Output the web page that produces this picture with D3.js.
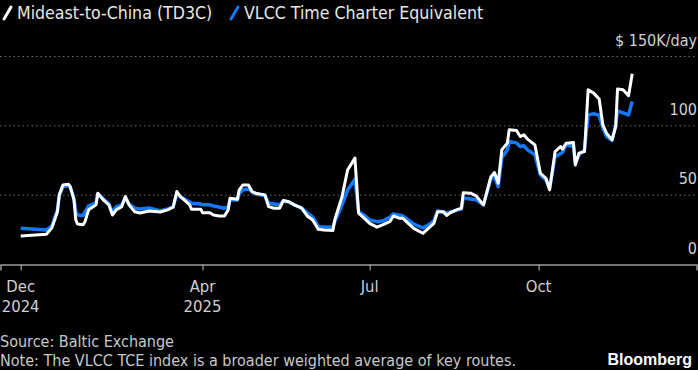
<!DOCTYPE html>
<html>
<head>
<meta charset="utf-8">
<script src="https://cdn.jsdelivr.net/npm/d3@7"></script>
<style>
  html, body { margin: 0; padding: 0; background: #000; }
  svg { display: block; }
  text { font-family: "DejaVu Sans Condensed", "DejaVu Sans", sans-serif; font-stretch: condensed; }
</style>
</head>
<body>
<svg width="698" height="370"></svg>
<script>
// values ($K/day)
const dates = [
  '2024-12-23','2025-01-06','2025-01-09','2025-01-12','2025-01-13','2025-01-15','2025-01-18','2025-01-19',
  '2025-01-21','2025-01-22','2025-01-23','2025-01-26','2025-01-27','2025-01-29','2025-02-02','2025-02-03',
  '2025-02-06','2025-02-09','2025-02-11','2025-02-13','2025-02-16','2025-02-18','2025-02-20','2025-02-23',
  '2025-02-26','2025-03-03','2025-03-09','2025-03-13','2025-03-16','2025-03-18','2025-03-20','2025-03-22',
  '2025-03-25','2025-03-26','2025-03-31','2025-04-01','2025-04-05','2025-04-07','2025-04-10','2025-04-13',
  '2025-04-15','2025-04-16','2025-04-20','2025-04-21','2025-04-23','2025-04-26','2025-04-28','2025-04-30',
  '2025-05-05','2025-05-07','2025-05-10','2025-05-13','2025-05-15','2025-05-18','2025-05-21','2025-05-25',
  '2025-05-28','2025-05-31','2025-06-03','2025-06-06','2025-06-11','2025-06-12','2025-06-16','2025-06-19',
  '2025-06-23','2025-06-25','2025-06-28','2025-07-01','2025-07-05','2025-07-08','2025-07-12','2025-07-14',
  '2025-07-17','2025-07-19','2025-07-22','2025-07-25','2025-07-30','2025-08-02','2025-08-05','2025-08-07',
  '2025-08-10','2025-08-12','2025-08-14','2025-08-18','2025-08-20','2025-08-21','2025-08-25','2025-08-28',
  '2025-09-01','2025-09-05','2025-09-07','2025-09-09','2025-09-11','2025-09-14','2025-09-15','2025-09-19',
  '2025-09-21','2025-09-23','2025-09-25','2025-09-29','2025-10-02','2025-10-05','2025-10-07','2025-10-10',
  '2025-10-13','2025-10-14','2025-10-16','2025-10-20','2025-10-21','2025-10-23','2025-10-26','2025-10-28',
  '2025-10-31','2025-11-03','2025-11-05','2025-11-07','2025-11-10','2025-11-12','2025-11-13','2025-11-16',
  '2025-11-19','2025-11-21'];

const td3c = [
  20.6,21.8,26.4,38.1,50.2,57.4,57.9,56.2, 46.6,32.1,29.2,28.7,30.9,39.4,43.0,51.4,
  46.6,43.0,35.7,39.4,41.7,49.0,43.0,38.1, 37.2,38.6,37.9,39.4,41.3,52.6,49.0,46.6,
  43.0,39.9,39.9,37.4,37.4,35.7,35.0,35.0, 39.4,47.8,47.1,53.8,57.4,57.4,52.6,51.4,
  50.2,41.7,40.6,40.6,46.1,45.3,43.0,40.6, 35.0,32.1,25.4,24.9,24.5,32.1,49.0,68.2,
  76.7,37.0,33.4,29.7,26.9,28.5,30.9,35.0, 33.4,33.4,29.7,26.1,22.5,26.1,29.7,38.1,
  38.1,35.4,37.4,39.7,40.6,51.8,51.4,49.5, 43.0,63.2,66.3,58.6,82.7,87.5,97.1,96.6,
  92.3,93.5,90.4,86.3,65.8,62.2,53.8,81.4, 85.1,83.2,87.5,87.9,71.8,80.3,81.4,126.0,
  123.6,119.3,100.7,94.7,89.9,99.5,126.5,126.0, 121.7,137.5];

const tce = [
  26.1,24.9,27.8,39.4,49.5,56.0,56.7,55.2, 48.0,37.9,35.7,35.4,37.9,42.2,44.4,50.9,
  47.3,43.7,37.9,41.5,43.0,48.0,43.7,40.8, 40.0,40.8,38.6,40.0,41.5,50.9,48.7,47.3,
  45.1,44.2,43.7,43.0,43.0,42.2,41.5,40.6, 41.5,46.6,46.6,50.9,53.8,54.5,52.3,50.9,
  49.5,44.2,43.7,43.0,45.8,45.1,43.0,40.8, 37.2,34.3,27.3,27.1,26.9,30.7,43.0,53.8,
  61.5,38.1,35.7,32.1,30.9,31.4,34.1,36.5, 35.7,35.0,32.1,29.2,26.4,28.5,31.4,38.6,
  37.9,37.2,37.9,39.4,40.0,48.0,47.3,46.6, 43.0,61.7,63.2,56.2,76.9,82.7,88.7,87.7,
  85.1,85.6,82.7,79.1,64.6,61.0,55.0,77.6, 80.1,80.7,86.3,85.1,73.1,79.1,82.7,107.9,
  108.7,107.6,98.6,92.3,89.5,100.7,110.8,109.4, 107.9,117.5];

const xTicks = ['2024-12-23','2025-04-01','2025-07-01','2025-10-01'];
const xTickMonths = ['Dec','Apr','Jul','Oct'];
const xTickYears = ['2024','2025','',''];
const yTicks = [0, 50, 100, 150];

const WHITE = '#ffffff';
const BLUE = '#1479f8';
const GRID = '#6e6e6e';
const LABEL = '#d0d0d0';

const parse = d3.timeParse('%Y-%m-%d');

function main(){
    const svg = d3.select('svg');

    const x = d3.scaleTime()
        .domain([parse('2024-12-12'), parse('2025-12-26')])
        .range([0.5, 696.5]);
    const y = d3.scaleLinear().domain([0, 150]).range([264.5, 56.5]);

    // dotted gridlines
    svg.append('g').selectAll('line')
        .data(yTicks.filter(t => t > 0))
        .join('line')
        .attr('x1', 0).attr('x2', 697)
        .attr('y1', d => y(d)).attr('y2', d => y(d))
        .attr('stroke', GRID).attr('stroke-width', 1)
        .attr('stroke-dasharray', '1.5,3');

    // right-side value labels
    svg.append('g').selectAll('text')
        .data(yTicks)
        .join('text')
        .attr('x', 697).attr('y', d => y(d) - 11)
        .attr('text-anchor', 'end').attr('font-size', 16)
        .attr('fill', LABEL)
        .text(d => d === 150 ? '$ 150K/day' : d);

    // x axis
    const xAxis = d3.axisBottom(x)
        .tickValues(xTicks.map(parse))
        .tickSize(6)
        .tickFormat('');
    const ax = svg.append('g')
        .attr('transform', `translate(0,${y(0)})`)
        .call(xAxis);
    ax.select('.domain').attr('stroke', '#9a9a9a').attr('stroke-width', 1.5);
    ax.selectAll('.tick line').attr('stroke', '#bdbdbd');

    const lbl = svg.append('g').selectAll('text')
        .data(xTicks)
        .join('text')
        .attr('text-anchor', 'middle').attr('font-size', 16.5)
        .attr('fill', LABEL);
    lbl.append('tspan')
        .attr('x', d => x(parse(d))).attr('y', 292)
        .text((d, i) => xTickMonths[i]);
    lbl.append('tspan')
        .attr('x', d => x(parse(d))).attr('y', 312)
        .text((d, i) => xTickYears[i]);

    // series
    const pts = dates.map((d, i) => ({date: parse(d), td3c: td3c[i], tce: tce[i]}));
    const line = key => d3.line()
        .x(d => x(d.date))
        .y(d => y(d[key]));

    svg.append('path').datum(pts)
        .attr('d', line('tce'))
        .attr('fill', 'none').attr('stroke', BLUE)
        .attr('stroke-width', 3.5).attr('stroke-linejoin', 'round');
    svg.append('path').datum(pts)
        .attr('d', line('td3c'))
        .attr('fill', 'none').attr('stroke', WHITE)
        .attr('stroke-width', 3).attr('stroke-linejoin', 'round');

    // legend
    const legend = [
        {name: 'Mideast-to-China (TD3C)', color: WHITE, x: 3},
        {name: 'VLCC Time Charter Equivalent', color: BLUE, x: 230}
    ];
    const lg = svg.append('g').selectAll('g')
        .data(legend)
        .join('g')
        .attr('transform', d => `translate(${d.x},0)`);
    lg.append('line')
        .attr('x1', 1).attr('y1', 19).attr('x2', 8).attr('y2', 7)
        .attr('stroke', d => d.color).attr('stroke-width', 3)
        .attr('stroke-linecap', 'round');
    lg.append('text')
        .attr('x', 14).attr('y', 19)
        .attr('font-size', 17.6).attr('fill', '#e8e8e8')
        .text(d => d.name);

    // footer
    svg.append('text')
        .attr('x', 0).attr('y', 347)
        .attr('font-size', 16).attr('fill', '#c8c8c8')
        .text('Source: Baltic Exchange');
    svg.append('text')
        .attr('x', 0).attr('y', 366)
        .attr('font-size', 16).attr('fill', '#c8c8c8')
        .text('Note: The VLCC TCE index is a broader weighted average of key routes.');
    svg.append('text')
        .attr('x', 692).attr('y', 365)
        .attr('text-anchor', 'end')
        .style('font-family', '"Liberation Sans", Arial, sans-serif')
        .style('font-stretch', 'normal')
        .attr('font-size', 16).attr('font-weight', 'bold').attr('fill', '#ffffff')
        .text('Bloomberg');
}

main();
</script>
</body>
</html>
